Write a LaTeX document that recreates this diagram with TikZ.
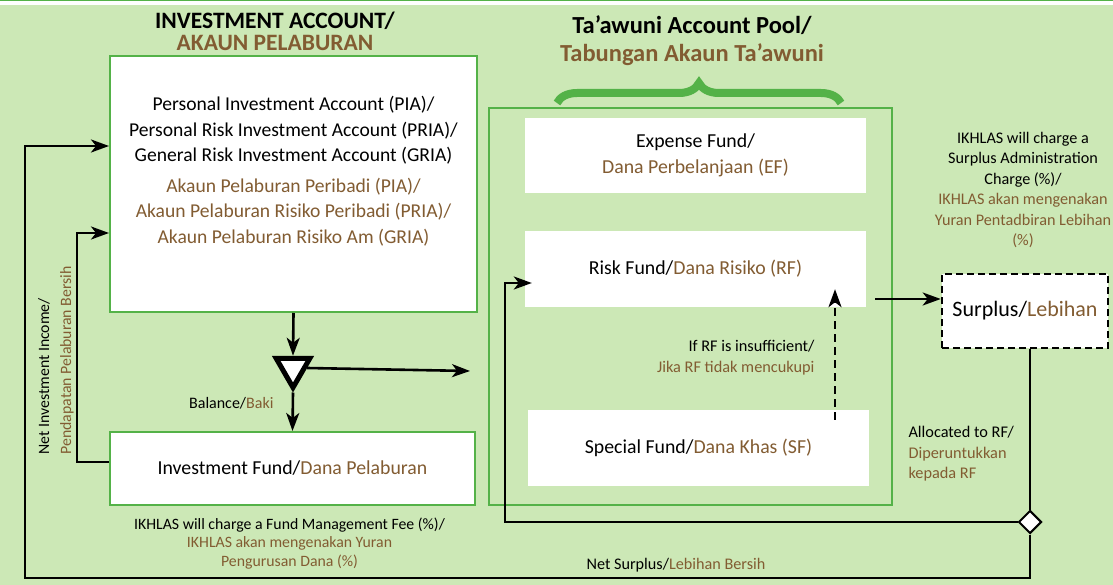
\documentclass[tikz,border=0pt]{standalone}
\usepackage{fontspec}
\setmainfont{Carlito}
\usetikzlibrary{arrows.meta,shapes.geometric,decorations.pathreplacing,calc}
\definecolor{bggreen}{RGB}{204,232,182}
\definecolor{boxgreen}{RGB}{84,178,72}
\definecolor{malay}{RGB}{130,92,50}
\newcommand{\mal}[1]{\textcolor{malay}{#1}}
\tikzset{
  acct/.style={draw=boxgreen,line width=2pt,fill=white,inner sep=0pt,align=center},
  fund/.style={fill=white,inner sep=0pt,minimum width=341pt,minimum height=76pt,align=center,font=\fontsize{19.8}{26}\selectfont},
  flow/.style={line width=2.6pt,-{Stealth[length=18pt,width=13pt,inset=5pt]}},
  note/.style={align=center,font=\fontsize{16.2}{20.4}\selectfont},
  title/.style={align=center,font=\bfseries\fontsize{23.5}{22}\selectfont},
}
\begin{document}
\begin{tikzpicture}[x=1pt,y=-1pt]
\useasboundingbox (0,0) rectangle (1113,585);
\fill[white] (0,0) rectangle (1113,585);
\fill[bggreen] (0,5) rectangle (1113,585);
\draw[boxgreen,line width=1.5pt] (0,0.75) -- (1113,0.75);

% investment account side
\node[title] (iatitle) at (275,31) {INVESTMENT ACCOUNT/\\\mal{AKAUN PELABURAN}};
\node[acct,minimum width=367pt,minimum height=256pt] (ia) at (293.5,184) {};
\node[align=center,font=\fontsize{19.6}{25.5}\selectfont] (iatext) at (293.5,171)
  {Personal Investment Account (PIA)/\\Personal Risk Investment Account (PRIA)/\\General Risk Investment Account (GRIA)\\[5pt]
   \mal{Akaun Pelaburan Peribadi (PIA)/}\\\mal{Akaun Pelaburan Risiko Peribadi (PRIA)/}\\\mal{Akaun Pelaburan Risiko Am (GRIA)}};
\node[regular polygon,regular polygon sides=3,shape border rotate=180,minimum size=39pt,inner sep=0pt,
  draw,line width=5pt,fill=white] (split) at (293,368) {};
\node[acct,minimum width=365pt,minimum height=73pt,font=\fontsize{19.8}{26}\selectfont] (invfund) at (292.5,468.5)
  {Investment Fund/\mal{Dana Pelaburan}};
\node[anchor=east,font=\fontsize{16}{18}\selectfont] (bal) at (277,403) {Balance/\mal{Baki}};
\node[note,font=\fontsize{15.8}{18.5}\selectfont] (fee) at (289.5,543.5) {IKHLAS will charge a Fund Management Fee (\%)/\\\mal{IKHLAS akan mengenakan Yuran}\\\mal{Pengurusan Dana (\%)}};
\node[note,rotate=90,anchor=west,align=left,font=\fontsize{15.8}{22}\selectfont] (nii) at (56,458)
  {Net Investment Income/\\\mal{Pendapatan Pelaburan Bersih}};

% ta'awuni pool
\node[title,font=\bfseries\fontsize{24.5}{28}\selectfont] (pooltitle) at (692,41) {Ta'awuni Account Pool/\\\mal{Tabungan Akaun Ta'awuni}};
\draw[boxgreen,line width=8pt,decorate,decoration={brace,amplitude=20pt}] (557,103) -- (841,103);
\node[draw=boxgreen,line width=2.5pt,minimum width=403pt,minimum height=397pt,inner sep=0pt] (pool) at (690.5,306.5) {};
\node[fund,minimum height=75pt] (ef) at (695.5,155.5) {Expense Fund/\\\mal{Dana Perbelanjaan (EF)}};
\node[fund] (rf) at (695.5,269) {Risk Fund/\mal{Dana Risiko (RF)}};
\node[fund] (sf) at (698.5,448) {Special Fund/\mal{Dana Khas (SF)}};
\node[note,align=right,anchor=east,font=\fontsize{16.3}{21}\selectfont] (insuff) at (818,357.5) {If RF is insufficient/\\\mal{Jika RF tidak mencukupi}};

% surplus
\node[note] (sac) at (1023,190) {IKHLAS will charge a\\Surplus Administration\\Charge (\%)/\\\mal{IKHLAS akan mengenakan}\\\mal{Yuran Pentadbiran Lebihan}\\\mal{(\%)}};
\node[draw,fill=white,line width=2.6pt,dash pattern=on 7pt off 4pt,minimum width=166pt,minimum height=74pt,
  font=\fontsize{22}{26}\selectfont] (surplus) at (1025,311) {Surplus/\mal{Lebihan}};
\node[diamond,draw,fill=white,line width=2pt,minimum size=23pt,inner sep=0pt] (dia) at (1030,522) {};
\node[note,align=left,anchor=west,font=\fontsize{16.3}{20.5}\selectfont] (alloc) at (905,454) {Allocated to RF/\\\mal{Diperuntukkan}\\\mal{kepada RF}};
\node[note] (netsur) at (676,565) {Net Surplus/\mal{Lebihan Bersih}};
\coordinate (poolout) at (875,299);
\coordinate (splitout) at (470,371);

% connectors
\draw[flow] (ia.south) -- (split.north);
\draw[flow] (split.south) -- (invfund.north);
\draw[flow] (split.east) -- (splitout);
\draw[flow] ([yshift=6.5pt]invfund.west) -- ++(-32,0) |- ([yshift=-49pt]ia.west);
\draw[flow,dash pattern=on 8pt off 5pt] ([xshift=136.5pt,yshift=-10pt]sf.north) -- ([xshift=139.5pt,yshift=18pt]rf.south);
\draw[flow] (poolout) -- (poolout -| surplus.west);
\draw[line width=2.6pt] (surplus.south -| dia.north) -- (dia.north);
\draw[flow] (dia.west) -| ($(rf.west)+(-20,14)$) -- ($(rf.west)+(7,14)$);
\draw[flow] (dia.south) |- (25,578) |- ([yshift=38pt]ia.west);
\end{tikzpicture}
\end{document}
